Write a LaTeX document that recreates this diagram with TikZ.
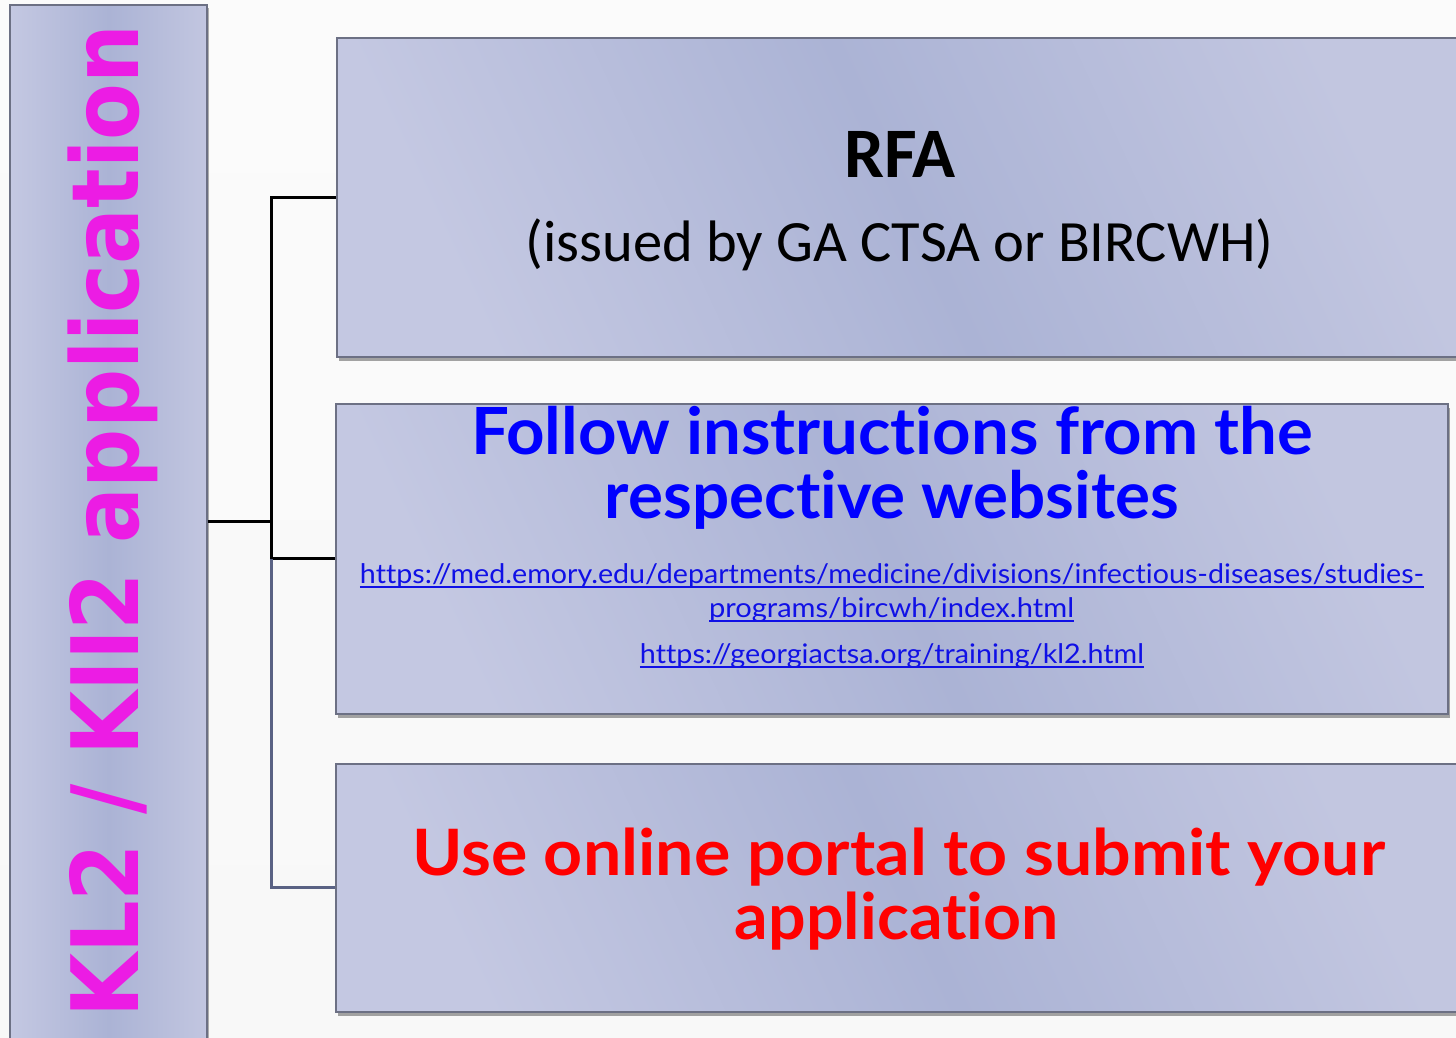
\documentclass[tikz,border=0pt]{standalone}
\usepackage{fontspec}
\usepackage{graphicx}
\usetikzlibrary{shadows}
\setmainfont{Lato}
\newfontfamily\vertfont{DejaVu Sans}
\newfontfamily\calfont{Carlito}
\newfontfamily\gillfont[Ligatures={NoCommon,NoRare,NoContextual}]{Lato}
\definecolor{bgtop}{HTML}{FBFBFB}
\definecolor{bgmid}{HTML}{E6E6E6}
\definecolor{bgbot}{HTML}{F8F8F8}
\definecolor{panlight}{HTML}{C4C8E2}
\definecolor{panmid}{HTML}{ABB3D5}
\definecolor{panright}{HTML}{C2C6E0}
\definecolor{panborder}{HTML}{6C7084}
\definecolor{slate}{HTML}{5A6284}
\definecolor{magentatxt}{HTML}{EC1CE4}
\definecolor{headblue}{HTML}{0000FF}
\definecolor{linkblue}{HTML}{1010E6}
\definecolor{headred}{HTML}{FF0000}
\newcommand\ulink[1]{\setbox0=\hbox{#1}\rlap{\rule[-4pt]{\wd0}{1.6pt}}\box0}
\newcommand\fitw[2]{\resizebox{#1}{\height}{#2}}
\begin{document}
\begin{tikzpicture}[x=1pt,y=1pt,
  panel/.style={draw=panborder, line width=1.3pt, inner sep=0pt,
    drop shadow={shadow xshift=2pt, shadow yshift=-4pt, opacity=0.35, fill=black},
    left color=panlight, right color=panright, middle color=panmid, shading angle=115},
  barpanel/.style={draw=panborder, line width=1.3pt, inner sep=0pt,
    drop shadow={shadow xshift=2pt, shadow yshift=-3pt, opacity=0.3, fill=black},
    left color=panlight, right color=panright, middle color=panmid},
  conn/.style={line width=3pt},
  lbl/.style={anchor=base, inner sep=0pt},
  ]
\useasboundingbox (0,0) rectangle (1456,1038);
\clip (0,0) rectangle (1456,1038);
\shade[top color=bgtop, middle color=bgmid, bottom color=bgbot] (0,0) rectangle (1456,1038);

% left bar
\node[barpanel, minimum width=197pt, minimum height=1050pt] (bar) at (108.5,508) {};
\node[rotate=90, anchor=base west, inner sep=0pt, text=magentatxt,
      font=\vertfont\bfseries\fontsize{93}{93}\selectfont] (vtitle) at (138,20)
      {\fitw{993pt}{KL2 / KII2 application}};

% boxes
\node[panel, minimum width=1133pt, minimum height=319pt] (box1) at (903.5,840.5) {};
\node[panel, minimum width=1112pt, minimum height=310pt] (box2) at (892,479) {};
\node[panel, minimum width=1134pt, minimum height=248pt] (box3) at (903,150) {};

% connectors
\coordinate (trunk) at (271,516);
\draw[conn] (bar.east |- trunk) -- (trunk);
\draw[conn] (trunk) |- (box1.west);
\draw[conn] (trunk) |- (box2.west);
\draw[conn, slate] (trunk |- box2.west) |- (box3.west);

% box 1 texts
\node[lbl, font=\calfont\bfseries\fontsize{71}{71}\selectfont] (rfa) at (900,860) {RFA};
\node[lbl, font=\calfont\fontsize{58.5}{58.5}\selectfont] (issued) at (899.5,776)
      {(issued by GA CTSA or BIRCWH)};

% box 2 texts
\node[lbl, text=headblue, font=\gillfont\bfseries\fontsize{65}{65}\selectfont] (follow1) at (892,583)
      {\fitw{842pt}{Follow instructions from the}};
\node[lbl, text=headblue, font=\gillfont\bfseries\fontsize{65}{65}\selectfont] (follow2) at (892,519)
      {\fitw{574pt}{respective websites}};
\node[lbl, text=linkblue, font=\gillfont\fontsize{27}{27}\selectfont] (url1) at (892,454)
      {\fitw{1064pt}{\ulink{https://med.emory.edu/departments/medicine/divisions/infectious-diseases/studies-}}};
\node[lbl, text=linkblue, font=\gillfont\fontsize{27}{27}\selectfont] (url2) at (891.5,420)
      {\fitw{365pt}{\ulink{programs/bircwh/index.html}}};
\node[lbl, text=linkblue, font=\gillfont\fontsize{27}{27}\selectfont] (url3) at (892,374)
      {\fitw{504pt}{\ulink{https://georgiactsa.org/training/kl2.html}}};

% box 3 texts
\node[lbl, text=headred, font=\gillfont\bfseries\fontsize{64}{64}\selectfont] (use1) at (898.5,162)
      {\fitw{973pt}{Use online portal to submit your}};
\node[lbl, text=headred, font=\gillfont\bfseries\fontsize{64}{64}\selectfont] (use2) at (897,98)
      {\fitw{324pt}{application}};
\end{tikzpicture}
\end{document}
